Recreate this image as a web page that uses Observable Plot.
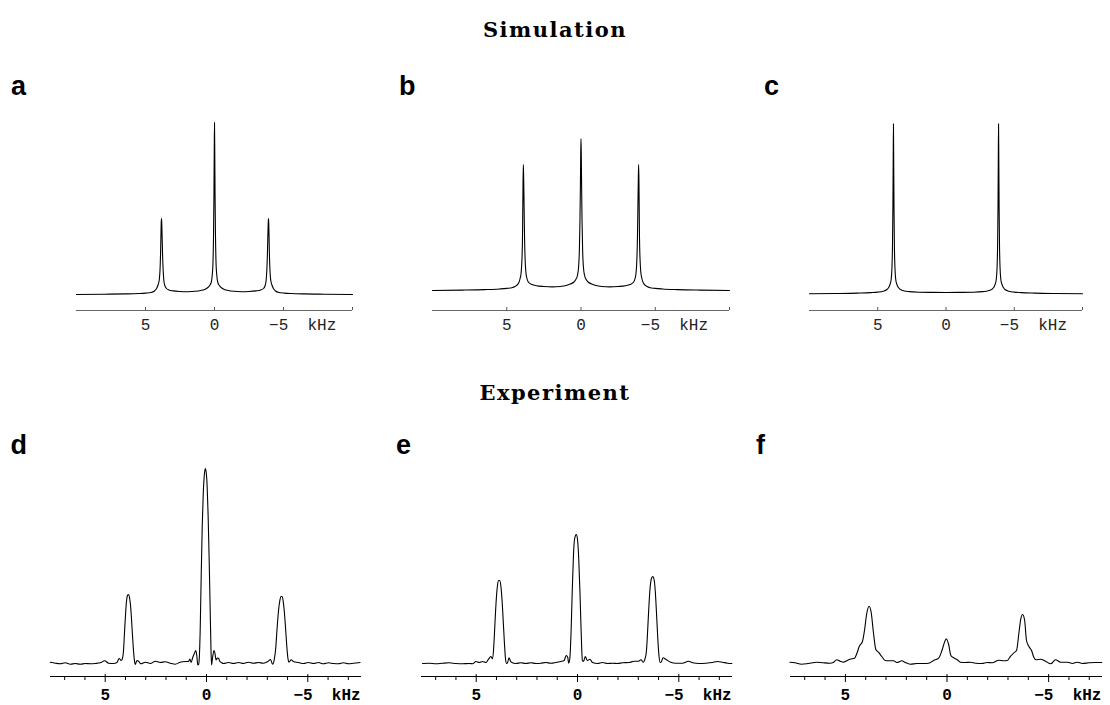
<!DOCTYPE html>
<html><head><meta charset="utf-8">
<script src="https://cdn.jsdelivr.net/npm/d3@7"></script>
<script src="https://cdn.jsdelivr.net/npm/@observablehq/plot@0.6"></script>
<style>
body{margin:0;background:#fff}
#fig{position:relative;width:1110px;height:705px;overflow:hidden;background:#fff}
.p{position:absolute}
.lab{position:absolute;font:bold 27px "Liberation Sans",Arial,sans-serif;line-height:1;color:#000;white-space:nowrap}
.ttl{position:absolute;left:0;width:1110px;text-align:center;font:bold 21px "DejaVu Serif",serif;letter-spacing:1.5px;line-height:1;color:#000}
</style>
</head><body>
<div id="fig"></div>
<script>
// ---------- data (kHz, intensity a.u.) ----------
const panelNames = ["a", "b", "c", "d", "e", "f"];
const rowTitles = ["Simulation", "Experiment"];
const simTicks = [5, 0, -5, -10];
const expMajorTicks = [5, 0, -5];
const expMinorTicks = [7, 6, 4, 3, 2, 1, -1, -2, -3, -4, -6, -7];
const labelTicks = [5, 0];
const unitTick = [-5];
const unitLabel = "kHz";

const aKHz = [10, 8, 6.5, 5.5, 5.0, 4.6, 4.35, 4.2, 4.08, 4.0, 3.95, 3.91, 3.88, 3.86, 3.84, 3.82, 3.79, 3.76, 3.72, 3.67, 3.6, 3.48, 3.3, 3.0, 2.5, 1.93, 1.4, 1.0, 0.72, 0.48, 0.35, 0.24, 0.16, 0.11, 0.07, 0.04, 0.02, 0, -0.02, -0.04, -0.07, -0.11, -0.16, -0.24, -0.35, -0.48, -0.72, -1.0, -1.4, -1.95, -2.5, -3.0, -3.35, -3.55, -3.67, -3.74, -3.79, -3.83, -3.86, -3.89, -3.91, -3.93, -3.95, -3.98, -4.02, -4.07, -4.15, -4.27, -4.42, -4.67, -5.07, -5.57, -6.5, -8, -10];
const aInt = [0, 0.3, 0.6, 1, 1.4, 2, 3.5, 6, 10, 15, 24, 40, 60, 72, 76, 70, 55, 38, 24, 14, 9, 6, 4.5, 3.6, 3.0, 2.8, 3.2, 4, 5, 7, 9, 12, 20, 32, 60, 100, 140, 172, 140, 100, 60, 32, 20, 12, 9, 7, 5, 4, 3.2, 2.8, 3.0, 3.6, 4.5, 6, 9, 14, 24, 38, 55, 70, 76, 72, 60, 40, 24, 15, 10, 6, 3.5, 2, 1.4, 1, 0.6, 0.3, 0];

const bKHz = [10, 8, 6.5, 5.5, 5.0, 4.6, 4.35, 4.2, 4.1, 4.03, 3.98, 3.94, 3.92, 3.90, 3.88, 3.86, 3.83, 3.80, 3.76, 3.71, 3.64, 3.52, 3.3, 3.0, 2.5, 1.94, 1.4, 1.0, 0.72, 0.48, 0.35, 0.24, 0.16, 0.11, 0.07, 0.04, 0.02, 0, -0.02, -0.04, -0.07, -0.11, -0.16, -0.24, -0.35, -0.48, -0.72, -1.0, -1.4, -1.94, -2.5, -3.0, -3.3, -3.52, -3.64, -3.71, -3.76, -3.80, -3.83, -3.86, -3.88, -3.90, -3.92, -3.94, -3.98, -4.03, -4.1, -4.2, -4.35, -4.6, -5.0, -5.5, -6.5, -8, -10];
const bInt = [0, 0.4, 0.9, 1.5, 2.1, 3, 4.8, 7.5, 12, 18, 30, 52, 82, 112, 126, 112, 82, 52, 30, 18, 12, 8, 6, 4.8, 4.0, 3.6, 4.0, 5, 6.5, 8.5, 11, 15, 24, 40, 70, 105, 135, 152, 135, 105, 70, 40, 24, 15, 11, 8.5, 6.5, 5, 4.0, 3.6, 4.0, 4.8, 6, 8, 12, 18, 30, 52, 82, 112, 126, 112, 82, 52, 30, 18, 12, 7.5, 4.8, 3, 2.1, 1.5, 0.9, 0.4, 0];

const cKHz = [10, 8, 6.5, 5.5, 5.0, 4.6, 4.35, 4.2, 4.1, 4.02, 3.96, 3.92, 3.89, 3.87, 3.85, 3.83, 3.81, 3.78, 3.74, 3.68, 3.6, 3.5, 3.35, 3.1, 2.7, 2.0, 1.0, 0, -1.0, -2.0, -2.7, -3.1, -3.35, -3.5, -3.6, -3.68, -3.74, -3.78, -3.81, -3.83, -3.85, -3.87, -3.89, -3.92, -3.96, -4.02, -4.1, -4.2, -4.35, -4.6, -5.0, -5.5, -6.5, -8, -10];
const cInt = [0, 0.3, 0.7, 1.2, 1.7, 2.6, 4, 6.2, 9.5, 14, 26, 48, 88, 130, 170, 130, 88, 48, 26, 14, 9.5, 6.5, 4.4, 3.1, 2.2, 1.6, 1.4, 1.3, 1.4, 1.6, 2.2, 3.1, 4.4, 6.5, 9.5, 14, 26, 48, 88, 130, 170, 130, 88, 48, 26, 14, 9.5, 6.2, 4, 2.6, 1.7, 1.2, 0.7, 0.3, 0];

const simBaseline = [0, 4, 0.7];

const dKHz = [7.71, 7.46, 7.22, 6.97, 6.72, 6.48, 6.23, 5.98, 5.74, 5.49, 5.24, 5.03, 4.83, 4.59, 4.42, 4.31, 4.21, 4.15, 4.10, 4.05, 4.00, 3.95, 3.90, 3.85, 3.80, 3.75, 3.70, 3.65, 3.60, 3.55, 3.52, 3.43, 3.35, 3.24, 3.02, 2.77, 2.53, 2.28, 2.04, 1.79, 1.54, 1.30, 1.05, 0.89, 0.82, 0.76, 0.68, 0.60, 0.53, 0.48, 0.43, 0.39, 0.35, 0.31, 0.26, 0.21, 0.16, 0.11, 0.06, 0.02, -0.03, -0.08, -0.13, -0.18, -0.22, -0.25, -0.30, -0.37, -0.42, -0.47, -0.54, -0.60, -0.66, -0.73, -0.84, -1.09, -1.33, -1.58, -1.83, -2.07, -2.32, -2.57, -2.81, -3.03, -3.16, -3.26, -3.35, -3.42, -3.48, -3.55, -3.62, -3.68, -3.73, -3.78, -3.84, -3.90, -3.96, -4.02, -4.07, -4.18, -4.29, -4.54, -4.79, -5.03, -5.28, -5.53, -5.77, -6.02, -6.27, -6.51, -6.76, -7.01, -7.25, -7.58];
const dInt = [1.3, 0.3, -0.3, 0.7, -0.7, 0, -0.7, 0, -0.3, 0, 0.7, 2.7, 0.3, 0, 1, 5, 3, 5, 12, 30, 48, 62, 68, 69, 66, 58, 44, 27, 12, 2, -1, 3, 2.3, -0.3, 1.3, 0, 2.3, 1, 1.7, 0.3, -0.7, 1.3, 2, 2, 4.5, 1, 6, 10, 13, 8, -1.5, -1, 8, 35, 90, 138, 170, 188, 195, 192, 178, 148, 105, 55, 15, -1.5, 6, 13, 10, 3.5, 5.5, 5, 2, 1, 0, 1, 0, 1, 0, 1.3, 0.3, 1, 0.3, 2, 4, -0.7, 4.7, 16, 34, 52, 63, 67, 67, 63, 52, 36, 18, 5, 1.3, 3.7, 2, 1, 0, 1, 0, 1, -0.3, 0.7, 0, -0.3, 0.7, -0.3, 0.3, 1];

const eKHz = [7.65, 7.32, 6.99, 6.66, 6.33, 6.00, 5.67, 5.34, 5.18, 5.01, 4.85, 4.69, 4.52, 4.39, 4.28, 4.19, 4.13, 4.07, 4.01, 3.95, 3.89, 3.84, 3.78, 3.72, 3.66, 3.60, 3.55, 3.50, 3.45, 3.38, 3.30, 3.26, 3.04, 2.80, 2.55, 2.30, 2.05, 1.81, 1.56, 1.32, 1.07, 0.83, 0.66, 0.56, 0.48, 0.44, 0.38, 0.32, 0.26, 0.20, 0.14, 0.06, 0.00, -0.06, -0.12, -0.18, -0.24, -0.30, -0.38, -0.49, -0.61, -0.74, -0.99, -1.23, -1.48, -1.73, -1.97, -2.22, -2.55, -2.80, -3.01, -3.14, -3.24, -3.34, -3.40, -3.46, -3.52, -3.58, -3.65, -3.72, -3.78, -3.84, -3.90, -3.96, -4.02, -4.08, -4.15, -4.22, -4.39, -4.60, -4.85, -5.18, -5.48, -5.68, -6.00, -6.33, -6.66, -6.90, -7.15, -7.40, -7.62];
const eInt = [0, 0.3, -0.3, 0.3, 0.7, 0, -0.3, 0, -0.3, 2, 1, 2, 1, 4.3, 7, 4.7, 18, 42, 64, 78, 83, 83, 77, 62, 40, 18, 4, 0, 1, 5.7, 2, 1.3, 0, 0.7, 0, 0.7, 0, 0.3, 1, 0.3, 1, 2, 3, 8, 6, 0.3, 5, 30, 72, 108, 125, 129, 124, 105, 72, 32, 3, 2, 7, 3, 4.3, 1, 0, 1, 0, 0.3, 0, 0.7, 1, 2.3, 2.3, 3.7, 1.3, 5.3, 12, 32, 56, 75, 85, 87, 84, 72, 50, 26, 8, 1, 2, 5.7, 3.7, 1.3, 0.3, 0.3, 2.3, 0.7, 0, 0.3, 1, 2, 1.3, 0.3, 0];

const fKHz = [7.73, 7.48, 7.15, 6.83, 6.41, 6.09, 5.76, 5.59, 5.43, 5.26, 5.10, 4.93, 4.77, 4.55, 4.44, 4.32, 4.16, 4.06, 3.95, 3.83, 3.73, 3.62, 3.50, 3.37, 3.21, 3.04, 2.88, 2.63, 2.47, 2.22, 2.06, 1.81, 1.48, 1.15, 0.90, 0.66, 0.41, 0.25, 0.11, 0.04, -0.08, -0.19, -0.33, -0.49, -0.66, -0.90, -1.15, -1.40, -1.72, -1.97, -2.22, -2.55, -2.80, -2.96, -3.13, -3.29, -3.42, -3.54, -3.63, -3.72, -3.82, -3.91, -4.03, -4.16, -4.27, -4.39, -4.60, -4.85, -5.10, -5.34, -5.59, -5.92, -6.17, -6.41, -6.66, -6.99, -7.31, -7.61];
const fInt = [1.3, 0.7, -0.7, 0, 1.3, 0.7, 0.3, 1, 3.7, 2.3, 1.3, 2.7, 4.3, 5.3, 9.7, 17, 22, 33, 50, 57.3, 51, 31, 14, 11.3, 7, 3, 2.7, 2.7, 1, 2.7, 1, -0.7, 0, 0, 0.3, 3, 5.3, 13, 22, 24.7, 19, 8, 5.7, 4, 1.3, 1, 1.3, 0.3, 0, 1, 0.7, 3.3, 2.7, 3, 7.3, 10.7, 13, 31, 44.7, 49, 43, 23, 17, 13, 6.3, 3.7, 4.3, 2.3, -0.3, 3.7, 1.3, 1.3, 0, 1.3, 0, 0.7, 1, 1];

// ---------- layout ----------
const fig = document.getElementById("fig");

function addText(cls, txt, left, top) {
  const el = document.createElement("div");
  el.className = cls;
  el.textContent = txt;
  if (left !== null) el.style.left = left + "px";
  el.style.top = top + "px";
  fig.appendChild(el);
}

addText("ttl", rowTitles[0], null, 19);
addText("ttl", rowTitles[1], null, 382);

const labelPos = [[11, 72.5], [399, 72.5], [764, 72.5], [10.5, 432], [396, 432], [756, 432]];
panelNames.forEach((n, i) => addText("lab", n, labelPos[i][0], labelPos[i][1]));

function place(svg, left, top) {
  const wrap = document.createElement("div");
  wrap.className = "p";
  wrap.style.left = left + "px";
  wrap.style.top = top + "px";
  wrap.appendChild(svg);
  fig.appendChild(wrap);
}

const minusLabel = d => "\u2212" + Math.abs(d) + "\u00a0\u00a0" + unitLabel;

function simPanel(khz, val, base, left, mL, mR) {
  const data = khz.map((k, i) => ({khz: k, v: val[i] + base}));
  const ymin = -16;
  const font = {fontSize: 16, fontFamily: "Liberation Mono, monospace", fill: "#222"};
  place(Plot.plot({
    width: 370, height: 240,
    marginTop: 10, marginBottom: 30, marginLeft: mL, marginRight: mR,
    style: {background: "transparent", overflow: "visible"},
    x: {domain: [10, -10], label: null},
    y: {domain: [ymin, 184], axis: null},
    marks: [
      Plot.ruleY([ymin], {stroke: "#666", strokeWidth: 1.2}),
      Plot.ruleX(simTicks, {y1: ymin, y2: ymin + 3, stroke: "#555", strokeWidth: 1}),
      Plot.axisX({ticks: labelTicks, label: null, tickSize: 0, tickPadding: 8, ...font, tickFormat: d => String(d)}),
      Plot.axisX({ticks: unitTick, label: null, tickSize: 0, tickPadding: 8, ...font, textAnchor: "start", dx: -14.4, tickFormat: minusLabel}),
      Plot.line(data, {x: "khz", y: "v", stroke: "#000", strokeWidth: 1.1, curve: "monotone-x"})
    ]
  }), left, 100);
}

function expPanel(khz, val, left, width, mL, mR) {
  const data = khz.map((k, i) => ({khz: k, v: val[i]}));
  const ymin = -13;
  const font = {fontSize: 16, fontWeight: "bold", fontFamily: "Liberation Mono, monospace", fill: "#000"};
  place(Plot.plot({
    width: width, height: 258,
    marginTop: 10, marginBottom: 28, marginLeft: mL, marginRight: mR,
    style: {background: "transparent", overflow: "visible"},
    x: {domain: [7.7, -7.65], label: null},
    y: {domain: [ymin, 207], axis: null},
    marks: [
      Plot.ruleY([ymin], {stroke: "#000", strokeWidth: 1.2}),
      Plot.ruleX(expMinorTicks, {y1: ymin, y2: ymin - 4, stroke: "#000", strokeWidth: 1}),
      Plot.ruleX(expMajorTicks, {y1: ymin + 2, y2: ymin - 6, stroke: "#000", strokeWidth: 1}),
      Plot.axisX({ticks: labelTicks, label: null, tickSize: 0, tickPadding: 12, ...font, tickFormat: d => String(d)}),
      Plot.axisX({ticks: unitTick, label: null, tickSize: 0, tickPadding: 12, ...font, textAnchor: "start", dx: -14.4, tickFormat: minusLabel}),
      Plot.line(data, {x: "khz", y: "v", stroke: "#000", strokeWidth: 1.1, curve: "monotone-x"})
    ]
  }), left, 446);
}

simPanel(aKHz, aInt, simBaseline[0], 0, 76, 18);
simPanel(bKHz, bInt, simBaseline[1], 370, 62, 11);
simPanel(cKHz, cInt, simBaseline[2], 740, 69, 28);

expPanel(dKHz, dInt, 0, 380, 50, 19);
expPanel(eKHz, eInt, 370, 380, 51, 18);
expPanel(fKHz, fInt, 740, 370, 50, 8);
</script>
</body></html>
